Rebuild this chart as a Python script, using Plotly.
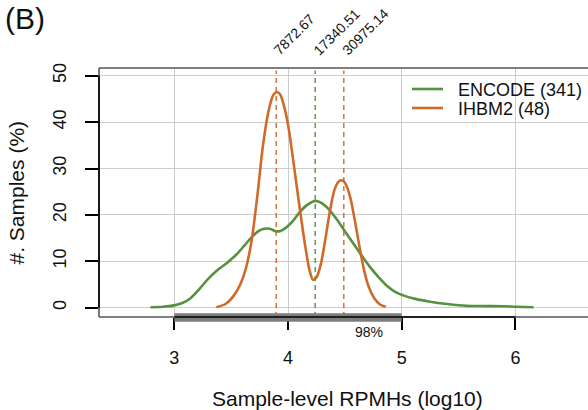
import math
import plotly.graph_objects as go

# ---------------- data ----------------
encode_x = [2.79, 2.90, 3.00, 3.07, 3.14, 3.22, 3.29, 3.37, 3.46, 3.54, 3.61, 3.68,
            3.74, 3.79, 3.84, 3.89, 3.93, 3.98, 4.04, 4.10, 4.16, 4.22, 4.25, 4.30,
            4.36, 4.43, 4.50, 4.57, 4.64, 4.72, 4.80, 4.88, 4.95, 5.02, 5.12, 5.25,
            5.40, 5.57, 5.75, 5.90, 6.00, 6.16]
encode_y = [0.1, 0.2, 0.5, 1.0, 2.0, 4.0, 6.0, 7.9, 9.6, 11.3, 13.2, 15.2,
            16.5, 17.0, 17.0, 16.5, 16.5, 17.2, 18.6, 20.5, 22.0, 22.9, 23.0, 22.5,
            21.2, 19.0, 16.5, 14.0, 11.5, 8.8, 6.5, 4.5, 3.3, 2.6, 1.9, 1.3,
            0.8, 0.4, 0.35, 0.3, 0.2, 0.1]

ihbm2_x = [3.37, 3.45, 3.52, 3.58, 3.63, 3.68, 3.73, 3.78, 3.83, 3.87, 3.90, 3.93,
           3.97, 4.01, 4.05, 4.10, 4.15, 4.19, 4.22, 4.25, 4.29, 4.33, 4.37, 4.41,
           4.45, 4.48, 4.51, 4.55, 4.59, 4.63, 4.67, 4.71, 4.76, 4.81, 4.86]
ihbm2_y = [0.1, 0.8, 2.5, 5.0, 8.5, 14.5, 24.0, 35.0, 42.5, 45.8, 46.5, 46.0,
           43.0, 38.0, 31.0, 22.0, 13.5, 8.0, 6.0, 6.5, 9.5, 15.0, 21.0, 25.5,
           27.3, 27.4, 26.5, 23.5, 18.5, 13.0, 8.0, 4.5, 2.0, 0.7, 0.2]

series_names = ["ENCODE (341)", "IHBM2 (48)"]
series_colors = ["#55913f", "#cf6a2b"]

threshold_values = [7872.67, 17340.51, 30975.14]   # RPMH values (dashed lines)
threshold_series = [1, 0, 1]                        # index into series

band_range = [3, 5]          # log10 range covering 98% of samples
band_label = "98%"

x_ticks = [3, 4, 5, 6]
y_ticks = [0, 10, 20, 30, 40, 50]

x_title = "Sample-level RPMHs (log10)"
y_title = "#. Samples (%)"
panel_label = "(B)"

# ---------------- layout geometry ----------------
W, H = 588, 410
PL, PT, PR, PB = 99, 68, 588, 317          # plot area in pixels
FONT = "Liberation Sans, Arial, Helvetica, sans-serif"


def px_x(p):
    return (p - PL) / (PR - PL)


def px_y(p):
    return (PB - p) / (PB - PT)


fig = go.Figure()

for xs, ys, name, col in [(encode_x, encode_y, series_names[0], series_colors[0]),
                          (ihbm2_x, ihbm2_y, series_names[1], series_colors[1])]:
    fig.add_trace(go.Scatter(x=xs, y=ys, mode="lines", name=name,
                             line=dict(color=col, width=2.6, shape="spline", smoothing=0.8),
                             showlegend=False, hoverinfo="skip"))

shapes = []
annotations = []

# dashed vertical lines + rotated labels
for v, si in zip(threshold_values, threshold_series):
    lx = math.log10(v)
    shapes.append(dict(type="line", xref="x", yref="paper", x0=lx, x1=lx, y0=0, y1=0.99,
                       line=dict(color=series_colors[si], width=1.4, dash="5px,4px"), layer="above"))
    annotations.append(dict(text=f"{v:.2f}", x=lx, xref="x", y=1, yref="paper",
                            xanchor="left", yanchor="bottom", textangle=-45,
                            xshift=-8, yshift=7, showarrow=False,
                            font=dict(family=FONT, size=14, color="#111111")))

# box border (dark grey)
border = "#555555"
shapes.append(dict(type="line", xref="paper", yref="paper", x0=0, x1=1, y0=1, y1=1,
                   line=dict(color=border, width=1.6), layer="above"))
shapes.append(dict(type="line", xref="paper", yref="paper", x0=0, x1=0, y0=0, y1=1,
                   line=dict(color=border, width=1.6), layer="above"))
shapes.append(dict(type="line", xref="paper", yref="paper", x0=0, x1=1, y0=0, y1=0,
                   line=dict(color=border, width=1.6), layer="above"))

# grey 98% band along the x axis
shapes.append(dict(type="rect", xref="x", yref="paper", x0=band_range[0], x1=band_range[1],
                   y0=px_y(321.7), y1=px_y(313.3), fillcolor="#7d7d7d",
                   line=dict(width=0), layer="above"))

# black axis lines
shapes.append(dict(type="line", xref="x", yref="paper", x0=x_ticks[0], x1=x_ticks[-1], y0=0, y1=0,
                   line=dict(color="black", width=1.6), layer="above"))
shapes.append(dict(type="line", xref="paper", yref="y", x0=0, x1=0, y0=y_ticks[0], y1=y_ticks[-1],
                   line=dict(color="black", width=1.6), layer="above"))

# legend (manual)
for i, (name, col) in enumerate(zip(series_names, series_colors)):
    ry = 89 + 19 * i
    shapes.append(dict(type="line", xref="paper", yref="paper", x0=px_x(412), x1=px_x(443),
                       y0=px_y(ry), y1=px_y(ry), line=dict(color=col, width=2.6)))
    annotations.append(dict(text=name, xref="paper", yref="paper", x=px_x(456), y=px_y(ry + 1),
                            xanchor="left", yanchor="middle", showarrow=False,
                            font=dict(family=FONT, size=18, color="#111111")))

# 98% label
annotations.append(dict(text=band_label, xref="x", yref="paper", x=4.712, y=px_y(332),
                        xanchor="center", yanchor="middle", showarrow=False,
                        font=dict(family=FONT, size=14, color="#111111")))

# axis titles
annotations.append(dict(text=x_title, xref="paper", yref="paper", x=px_x(347.4), y=px_y(398),
                        xanchor="center", yanchor="middle", showarrow=False,
                        font=dict(family=FONT, size=21, color="#111111")))
annotations.append(dict(text=y_title, xref="paper", yref="paper", x=px_x(16), y=px_y(192.5),
                        xanchor="center", yanchor="middle", textangle=-90, showarrow=False,
                        font=dict(family=FONT, size=21, color="#111111")))

# panel label
annotations.append(dict(text=panel_label, xref="paper", yref="paper", x=px_x(3), y=px_y(0),
                        xanchor="left", yanchor="top", showarrow=False,
                        font=dict(family=FONT, size=30, color="#111111")))

xr0 = 3 - (174.3 - PL) / 113.7
xr1 = 3 + (PR - 174.3) / 113.7
yr0 = (307.7 - PB) / 4.64
yr1 = (307.7 - PT) / 4.64

fig.update_layout(
    width=W, height=H, autosize=False,
    margin=dict(l=PL, r=W - PR, t=PT, b=H - PB, pad=0),
    paper_bgcolor="white", plot_bgcolor="white",
    font=dict(family=FONT, color="#111111"),
    shapes=shapes, annotations=annotations, showlegend=False,
    xaxis=dict(range=[xr0, xr1], tickvals=x_ticks, ticktext=[str(t) for t in x_ticks],
               showgrid=True, gridcolor="#cccccc", gridwidth=1, zeroline=False, showline=False,
               ticks="outside", ticklen=12, tickwidth=1.5, tickcolor="black",
               ticklabelstandoff=12, tickfont=dict(family=FONT, size=18, color="#111111")),
    yaxis=dict(range=[yr0, yr1], tickvals=y_ticks, ticktext=[str(t) for t in y_ticks],
               showgrid=True, gridcolor="#cccccc", gridwidth=1, zeroline=False, showline=False,
               ticks="outside", ticklen=13, tickwidth=1.5, tickcolor="black", tickangle=-90,
               ticklabelstandoff=12, tickfont=dict(family=FONT, size=18, color="#111111")),
)

fig.write_html("out.html", config={"displayModeBar": False},
               post_script="document.body.style.margin='0';document.body.style.padding='0';")
